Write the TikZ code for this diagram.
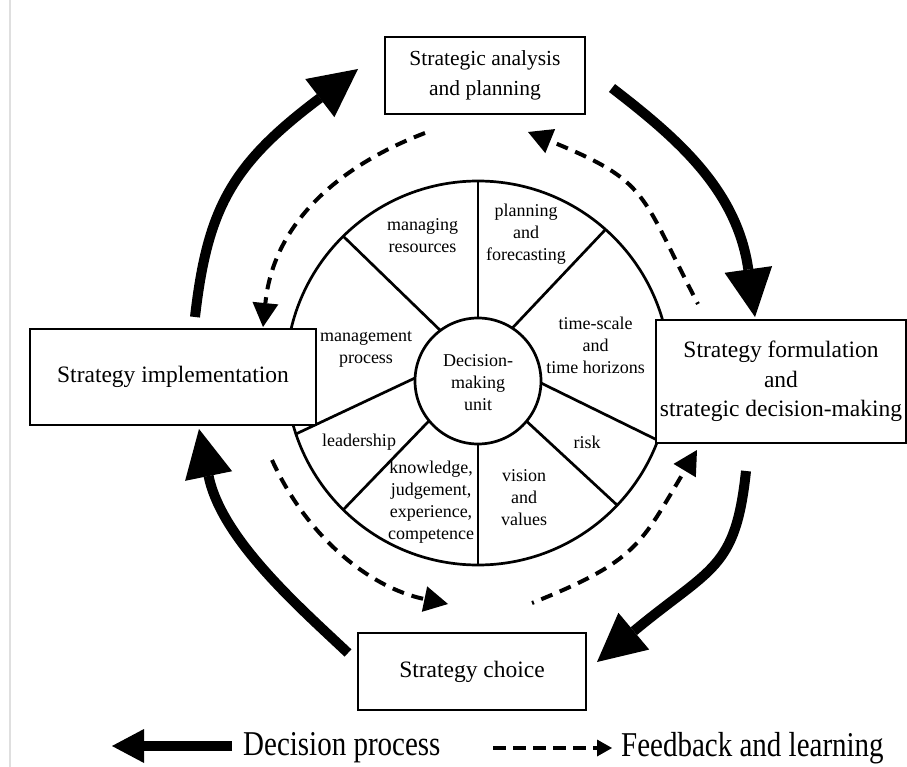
\documentclass[tikz,border=0pt]{standalone}
\usepackage{fontspec}
\usepackage{graphicx}
\setmainfont{Liberation Serif}
\usetikzlibrary{arrows.meta}
\begin{document}
\begin{tikzpicture}[x=1pt,y=-1pt,
  wheelline/.style={line width=2.7pt},
  stage/.style={draw,line width=2.7pt,fill=white,inner sep=0pt,align=center,font=\fontsize{23.5}{29.5}\selectfont},
  seglabel/.style={align=center,inner sep=0pt,font=\fontsize{18}{22}\selectfont},
  decision/.style={line width=10pt,-{Triangle[length=48pt,width=48pt,line width=0pt]}},
  feedback/.style={line width=4pt,dash pattern=on 12pt off 8pt,-{Triangle[length=24pt,width=26pt,line width=0pt]}},
  legendtext/.style={anchor=west,inner sep=0pt,font=\fontsize{29}{35}\selectfont},
]
\useasboundingbox (0,0) rectangle (907,767);
\fill[white] (0,0) rectangle (907,767);
\draw[gray!25,line width=1.5pt] (10,0) -- (10,767);

% wheel
\coordinate (oc) at (478,373);
\coordinate (ic) at (478,381);
\draw[wheelline] (478,318) -- (478,181);
\draw[wheelline] (512.3,328.1) -- (605.5,229.5);
\draw[wheelline] (541,383) -- (657.8,440.3);
\draw[wheelline] (526.5,421.2) -- (617.2,505.2);
\draw[wheelline] (478,444) -- (478,565);
\draw[wheelline] (429.1,420.8) -- (343.2,509.8);
\draw[wheelline] (415,378) -- (295.9,434);
\draw[wheelline] (440.4,330.5) -- (343.2,236.2);
\draw[wheelline] (oc) circle[radius=192];
\draw[wheelline] (ic) circle[radius=63];

% segment labels
\node[seglabel] (lblres) at (422.5,236) {managing\\resources};
\node[seglabel] (lblplan) at (526,234) {planning\\and\\forecasting};
\node[seglabel] (lbltime) at (595.5,345) {time-scale\\and\\time horizons};
\node[seglabel] (lblproc) at (366,349.5) {management\\process};
\node[seglabel] (lbldmu) at (478,383) {Decision-\\making\\unit};
\node[seglabel] (lbllead) at (359,442) {leadership};
\node[seglabel] (lblrisk) at (587,442) {risk};
\node[seglabel] (lblknow) at (431,502) {knowledge,\\judgement,\\experience,\\competence};
\node[seglabel] (lblvis) at (524,498) {vision\\and\\values};

% stage boxes
\node[stage,minimum width=200pt,minimum height=77pt,font=\fontsize{21.5}{30}\selectfont] (analysis) at (485,75.5) {Strategic analysis\\and planning};
\node[stage,minimum width=250pt,minimum height=123pt] (formulation) at (781,381.5) {Strategy formulation\\and\\strategic decision-making};
\node[stage,minimum width=286pt,minimum height=96pt] (implementation) at (173,377) {Strategy implementation};
\node[stage,minimum width=228pt,minimum height=77pt] (choice) at (472,671.5) {Strategy choice};

% decision process arcs
\coordinate (impout) at (195,317);
\coordinate (anain) at (358,69);
\coordinate (anaout) at (612,88);
\coordinate (forin) at (755,317);
\coordinate (forout) at (746,471);
\coordinate (choin) at (597,662);
\coordinate (choout) at (348,653);
\coordinate (impin) at (199,429);
\draw[decision] (impout) .. controls (207.5,207.8) and (232,164) .. (320,98) -- (anain);
\draw[decision] (anaout) .. controls (676.2,137.5) and (737,189.3) .. (748.3,269.5) -- (forin);
\draw[decision] (forout) .. controls (735.5,570.4) and (711,567) .. (634,631) -- (choin);
\draw[decision] (choout) .. controls (300.8,608.3) and (221.6,539.7) .. (208.6,476) -- (impin);

% feedback arcs
\coordinate (fbanaout) at (425,133);
\coordinate (fbimpin) at (263,327);
\coordinate (fbforout) at (698,304);
\coordinate (fbanain) at (528,132);
\coordinate (fbimpout) at (272,460);
\coordinate (fbchoin) at (448,604);
\coordinate (fbchoout) at (532,603);
\coordinate (fbforin) at (697,450);
\draw[feedback] (fbanaout) .. controls (337.4,166.5) and (273.3,224.2) .. (fbimpin);
\draw[feedback,dash phase=10pt] (fbforout) .. controls (639.7,192.6) and (650.4,182.1) .. (fbanain);
\draw[feedback] (fbimpout) .. controls (307.3,537.6) and (370.1,587.7) .. (fbchoin);
\draw[feedback,dash phase=10pt] (fbchoout) .. controls (637.8,560.7) and (640.5,544.3) .. (fbforin);

% legend
\coordinate (lgas) at (232,746);
\coordinate (lgae) at (112,746);
\draw[line width=10pt,-{Triangle[length=32pt,width=34pt,line width=0pt]}] (lgas) -- (lgae);
\node[legendtext] (lgdp) at (243,748) {\scalebox{1}[1.2]{Decision process}};
\coordinate (lgbs) at (493,748);
\coordinate (lgbe) at (612,748);
\draw[line width=4.5pt,dash pattern=on 13pt off 7pt,-{Triangle[length=15pt,width=17pt,line width=0pt]}] (lgbs) -- (lgbe);
\node[legendtext] (lgfl) at (621,748) {\scalebox{1}[1.2]{Feedback and learning}};
\end{tikzpicture}
\end{document}
